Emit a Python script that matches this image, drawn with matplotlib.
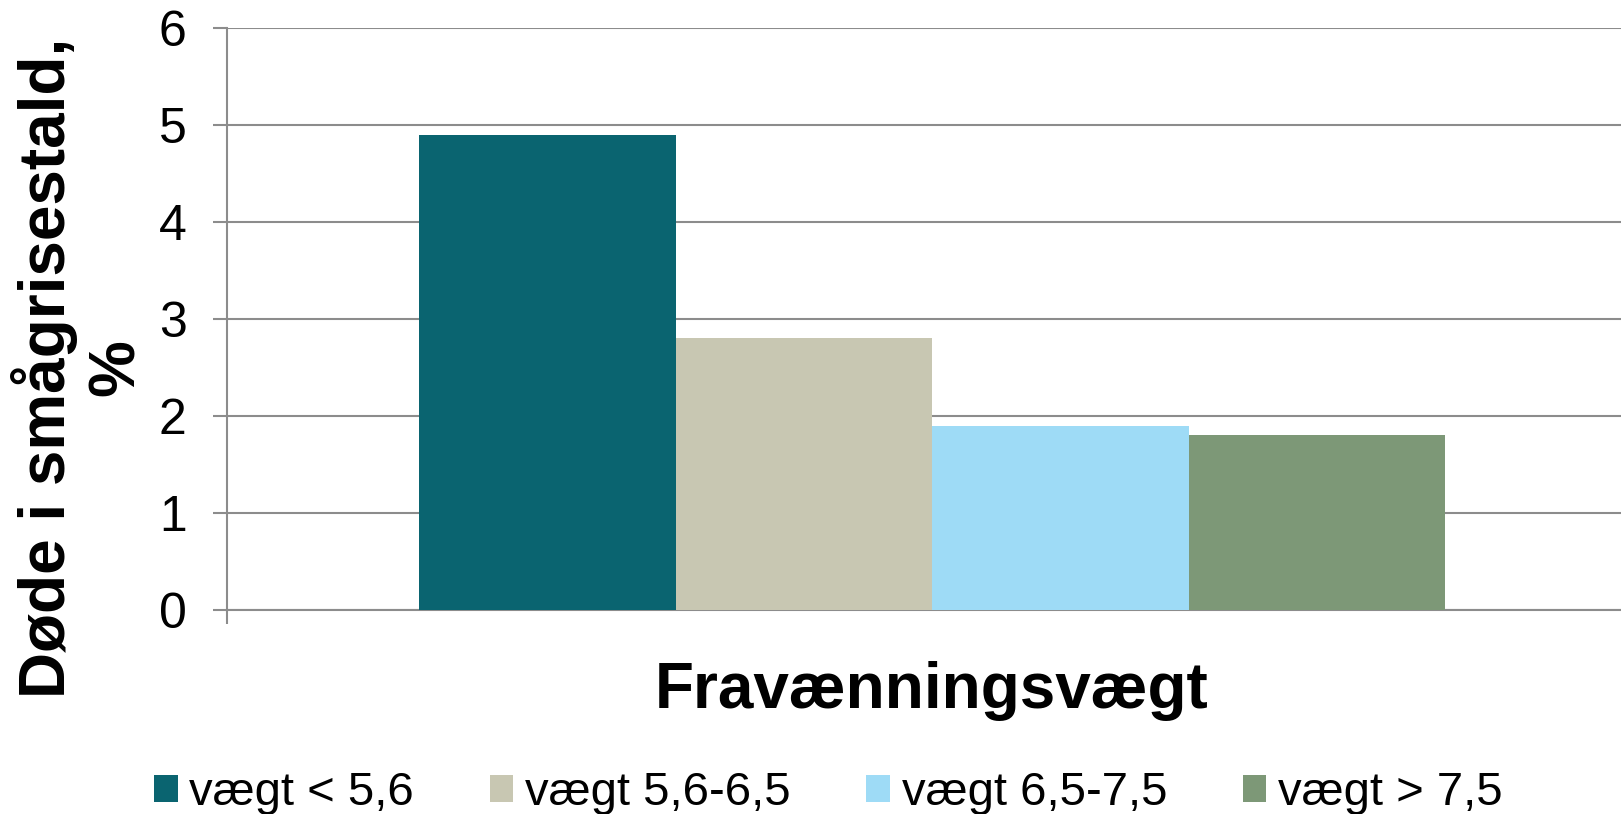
import matplotlib
matplotlib.use('Agg')
import matplotlib.pyplot as plt
import numpy as np

series = ['vægt < 5,6', 'vægt 5,6-6,5', 'vægt 6,5-7,5', 'vægt > 7,5']
values = [4.9, 2.8, 1.9, 1.8]
colors = ['#0A6470', '#C8C7B2', '#9EDBF6', '#7D9877']
y_ticks = [0, 1, 2, 3, 4, 5, 6]

plt.rcParams['font.family'] = ['Liberation Sans', 'DejaVu Sans']

fig = plt.figure(figsize=(16.21, 8.14), dpi=100)
ax = fig.add_axes([0.1400, 0.2506, 0.8600, 0.7150])

width = 0.184
for i, (name, val, col) in enumerate(zip(series, values, colors)):
    ax.bar((i - 1.5) * width, val, width=width, color=col, label=name, zorder=3)

ax.set_xlim(-0.506, 0.494)
ax.set_ylim(0, 6)
ax.set_yticks(y_ticks)
ax.set_yticklabels([str(t) for t in y_ticks], fontsize=36)
ax.set_xticks([-0.506])
ax.set_xticklabels([''])

ax.grid(axis='y', color='#8C8C8C', linewidth=1.5, zorder=0)
for s in ['top', 'right']:
    ax.spines[s].set_visible(False)
for s in ['left', 'bottom']:
    ax.spines[s].set_color('#8C8C8C')
    ax.spines[s].set_linewidth(1.5)
ax.tick_params(axis='y', length=10, width=1.5, color='#8C8C8C', pad=19)
ax.tick_params(axis='x', length=10, width=1.5, color='#8C8C8C')

fig.text(0.575, 0.130, 'Fravænningsvægt', fontsize=46, fontweight='bold',
         ha='center', va='baseline')
fig.text(0.0487, 0.548, 'Døde i smågrisestald,\n%', fontsize=46,
         fontweight='bold', rotation=90, ha='center', va='center',
         multialignment='center', linespacing=1.2)

fig.legend(loc='lower center', bbox_to_anchor=(0.511, -0.054), ncol=4,
           frameon=False, fontsize=34, handlelength=0.5, handleheight=0.5,
           handletextpad=0.25, columnspacing=1.6)

fig.savefig('out.png', dpi=100)
